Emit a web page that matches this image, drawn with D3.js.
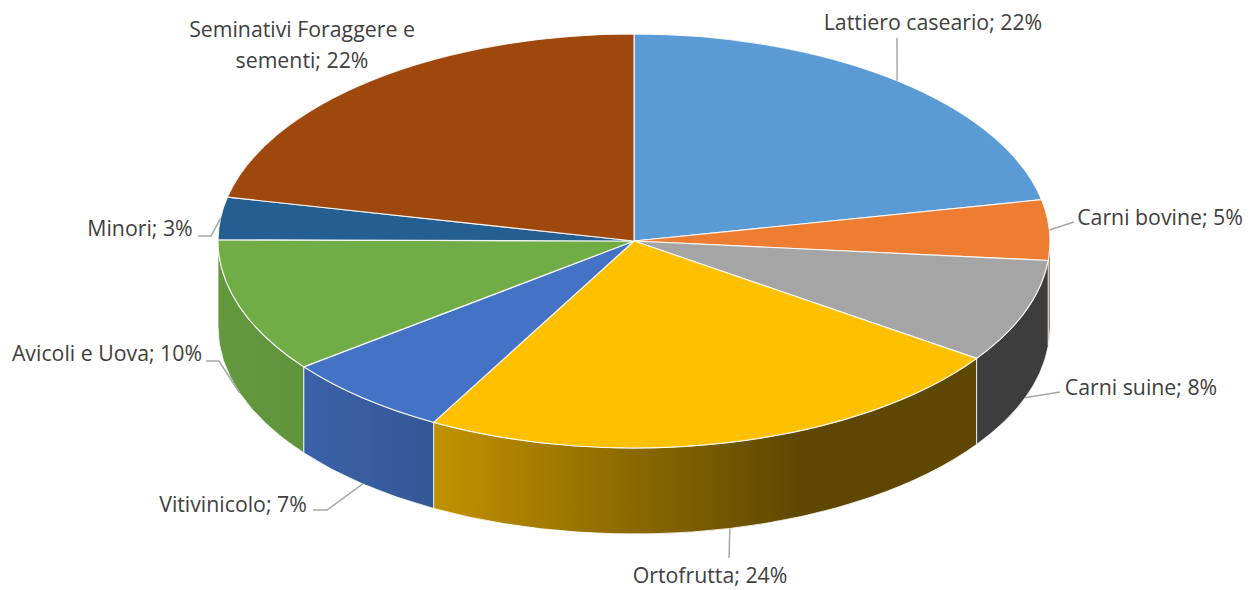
<!DOCTYPE html>
<html>
<head>
<meta charset="utf-8">
<script src="https://cdn.jsdelivr.net/npm/d3@7"></script>
<style>
  html, body { margin: 0; padding: 0; background: #fff; }
  svg { display: block; }
  text { font-family: "Open Sans", "Noto Sans", sans-serif; fill: #404040; }
</style>
</head>
<body>
<svg id="chart" width="1251" height="590"></svg>
<script>
// ---- data ----
const categories = ["Lattiero caseario", "Carni bovine", "Carni suine", "Ortofrutta",
                    "Vitivinicolo", "Avicoli e Uova", "Minori", "Seminativi Foraggere e sementi"];
const values = [21.8, 4.7, 8.1, 23.4, 6.6, 10.5, 3.3, 21.6];
const percentLabels = ["22%", "5%", "8%", "24%", "7%", "10%", "3%", "22%"];
const colors = ["#5B9BD5", "#ED7D31", "#A5A5A5", "#FFC000", "#4472C4", "#70AD47", "#255E91", "#9E480E"];

// ---- layout ----
const W = 1251, H = 590;
const cx = 634, cy = 241, rx = 416, ry = 207, depth = 86;
// label layout: anchor x (middle), baseline y, leader waypoints
const labelLayout = [
  { x: 933, y: 30, leader: [[897, 38]] },
  { x: 1160, y: 225, leader: [[1074, 222]] },
  { x: 1141, y: 395, leader: [[1060, 392]] },
  { x: 710, y: 583, leader: [[729, 558]] },
  { x: 233, y: 512, leader: [[313, 510], [327, 510]] },
  { x: 107, y: 361, leader: [[206, 361], [219, 361]] },
  { x: 140, y: 236, leader: [[198, 236], [211, 236]] },
  { x: 302, y: 37, leader: null, wrapAfter: "Foraggere e" }
];

const svg = d3.select("#chart");
const defs = svg.append("defs");

const pie = d3.pie().sort(null).value(d => d).startAngle(0).endAngle(2 * Math.PI);
const arcs = pie(values);

const px = a => cx + rx * Math.sin(a);
const py = a => cy - ry * Math.cos(a);

function shade(hex, f) {
  const c = d3.rgb(hex);
  return d3.rgb(c.r * f, c.g * f, c.b * f).formatHex();
}

// side gradients (lighting from left)
const shadeStops = [[218, 0.88], [320, 0.85], [432, 0.76], [800, 0.37], [1050, 0.37]];
colors.forEach((c, i) => {
  const g = defs.append("linearGradient")
    .attr("id", "side" + i)
    .attr("gradientUnits", "userSpaceOnUse")
    .attr("x1", cx - rx).attr("x2", cx + rx).attr("y1", 0).attr("y2", 0);
  shadeStops.forEach(([x, f]) => {
    g.append("stop").attr("offset", (x - (cx - rx)) / (2 * rx)).attr("stop-color", shade(c, f));
  });
});

// ---- side walls (front half only) ----
const sideG = svg.append("g");
arcs.forEach((d, i) => {
  const b0 = Math.max(d.startAngle, Math.PI / 2);
  const b1 = Math.min(d.endAngle, 3 * Math.PI / 2);
  if (b1 <= b0) return;
  const large = (b1 - b0) > Math.PI ? 1 : 0;
  const p = `M${px(b0)},${py(b0)} A${rx},${ry} 0 ${large} 1 ${px(b1)},${py(b1)}` +
            ` L${px(b1)},${py(b1) + depth} A${rx},${ry} 0 ${large} 0 ${px(b0)},${py(b0) + depth} Z`;
  sideG.append("path").attr("d", p)
    .attr("fill", `url(#side${i})`)
    .attr("stroke", "#ffffff").attr("stroke-opacity", 0.8).attr("stroke-width", 1)
    .attr("stroke-linejoin", "round");
});

// ---- top faces ----
const topG = svg.append("g");
arcs.forEach((d, i) => {
  const a0 = d.startAngle, a1 = d.endAngle;
  const large = (a1 - a0) > Math.PI ? 1 : 0;
  const p = `M${cx},${cy} L${px(a0)},${py(a0)} A${rx},${ry} 0 ${large} 1 ${px(a1)},${py(a1)} Z`;
  topG.append("path").attr("d", p)
    .attr("fill", colors[i])
    .attr("stroke", "#ffffff").attr("stroke-opacity", 0.85).attr("stroke-width", 1.2)
    .attr("stroke-linejoin", "round");
});

// ---- leaders & labels ----
const labG = svg.append("g");
arcs.forEach((d, i) => {
  const L = labelLayout[i];
  const mid = (d.startAngle + d.endAngle) / 2;
  const ax = px(mid);
  const ay = py(mid) + (Math.cos(mid) < 0 ? depth : 0);
  if (L.leader) {
    const pts = L.leader.concat([[ax, ay]]);
    labG.append("path")
      .attr("d", d3.line()(pts))
      .attr("fill", "none").attr("stroke", "#A6A6A6").attr("stroke-width", 1.5);
  }
  const full = categories[i] + "; " + percentLabels[i];
  let lines = [full];
  if (L.wrapAfter) {
    const k = full.indexOf(L.wrapAfter) + L.wrapAfter.length;
    lines = [full.slice(0, k), full.slice(k + 1)];
  }
  const t = labG.append("text")
    .attr("x", L.x).attr("y", L.y)
    .attr("text-anchor", "middle")
    .attr("font-size", 21.3);
  lines.forEach((ln, k) => {
    t.append("tspan").attr("x", L.x).attr("dy", k === 0 ? 0 : 31).text(ln);
  });
});
</script>
</body>
</html>
